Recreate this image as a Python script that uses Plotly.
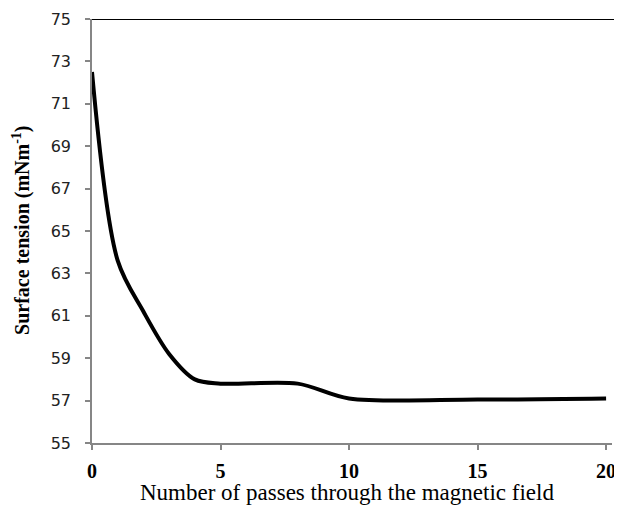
import plotly.graph_objects as go

passes = [0, 1, 2, 3, 4, 5, 8, 10, 15, 20]
tension = [72.5, 63.6, 61.2, 59.2, 58.0, 57.8, 57.8, 57.1, 57.05, 57.1]

x_ticks = [0, 5, 10, 15, 20]
y_ticks = [55, 57, 59, 61, 63, 65, 67, 69, 71, 73, 75]

x_title = "Number of passes through the magnetic field"
y_title = "<b>Surface tension (mNm<sup>-1</sup>)</b>"

fig = go.Figure()
fig.add_trace(go.Scatter(
    x=passes, y=tension, mode="lines",
    line=dict(color="black", width=4, shape="spline", smoothing=0.9),
    showlegend=False, cliponaxis=False,
))

fig.add_shape(type="line", xref="paper", yref="y", x0=0, x1=1.02, y0=75, y1=75,
              line=dict(color="black", width=2), layer="above")

fig.add_annotation(text=x_title, xref="paper", yref="paper", x=0.491, y=-0.1156,
                   xanchor="center", yanchor="middle", showarrow=False,
                   font=dict(family="Liberation Serif", size=23, color="black"))
fig.add_annotation(text=y_title, xref="paper", yref="paper", x=-0.137, y=0.502,
                   xanchor="center", yanchor="middle", showarrow=False, textangle=-90,
                   font=dict(family="Liberation Serif", size=20, color="black"))

fig.update_layout(
    width=614, height=499,
    margin=dict(l=84, r=10, t=11, b=64, pad=0, autoexpand=False),
    plot_bgcolor="white", paper_bgcolor="white",
    xaxis=dict(
        range=[0, 20.23], tickvals=x_ticks, ticktext=[str(v) for v in x_ticks],
        showgrid=False, zeroline=False, automargin=False,
        showline=True, linecolor="#868686", linewidth=1.5,
        ticks="outside", ticklen=5, tickcolor="#868686", tickwidth=1.5,
        tickfont=dict(family="Liberation Serif", size=20, color="black", weight="bold"),
        ticklabelstandoff=4,
    ),
    yaxis=dict(
        range=[55, 75], tickvals=y_ticks, ticktext=[str(v) for v in y_ticks],
        showgrid=False, zeroline=False, automargin=False,
        showline=True, linecolor="#868686", linewidth=1.5,
        ticks="outside", ticklen=5, tickcolor="#868686", tickwidth=1.5,
        tickfont=dict(family="DejaVu Sans", size=16, color="#222"),
        ticklabelstandoff=11,
    ),
)

fig.write_html("out.html")
